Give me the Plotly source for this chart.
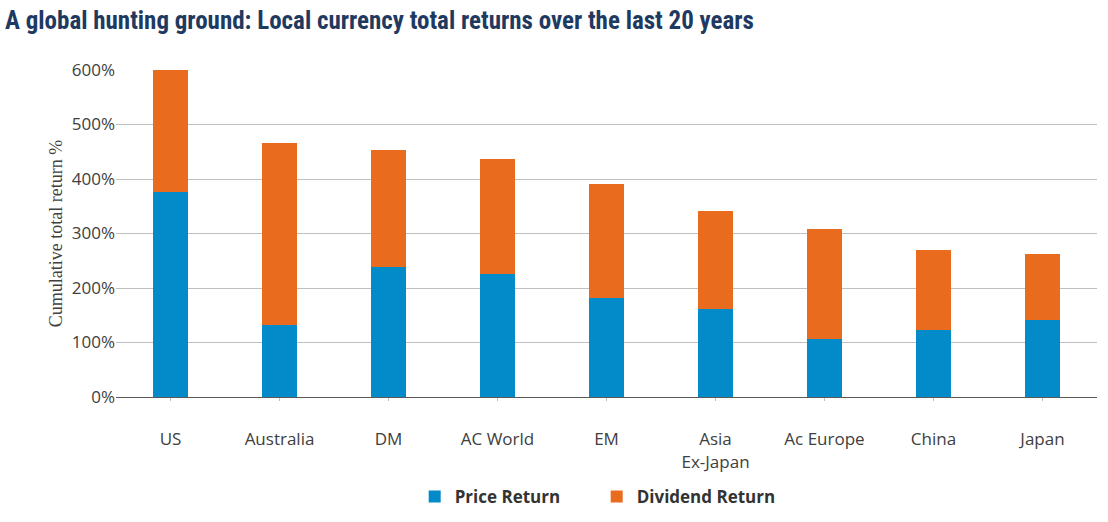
import plotly.graph_objects as go

categories = ["US", "Australia", "DM", "AC World", "EM", "Asia<br>Ex-Japan", "Ac Europe", "China", "Japan"]
price_return = [376, 132, 239, 226, 182, 162, 107, 123, 142]
total_return = [600, 466, 453, 436, 391, 341, 308, 270, 262]
dividend_return = [t - p for t, p in zip(total_return, price_return)]
y_ticks = [0, 100, 200, 300, 400, 500, 600]
y_tick_labels = [f"{v}%" for v in y_ticks]

BLUE = "#038AC8"
ORANGE = "#E96B1E"

fig = go.Figure()
fig.add_trace(go.Bar(x=categories, y=price_return, name="Price Return",
                     marker=dict(color=BLUE, line=dict(width=0))))
fig.add_trace(go.Bar(x=categories, y=dividend_return, name="Dividend Return",
                     marker=dict(color=ORANGE, line=dict(width=0))))

fig.update_layout(
    barmode="stack",
    bargap=0.67,
    width=1108, height=522,
    margin=dict(l=116, r=11, t=70, b=125, autoexpand=False),
    paper_bgcolor="white", plot_bgcolor="white",
    title=dict(text="<b>A global hunting ground: Local currency total returns over the last 20 years</b>",
               x=0.0, xanchor="left", y=0.962, yanchor="middle", pad=dict(l=5),
               font=dict(family="Liberation Sans Narrow, Roboto Condensed, Roboto, sans-serif",
                         size=25, color="#1F3A60")),
    legend=dict(orientation="h", x=0.49, xanchor="center",
                yref="container", y=0.048, yanchor="middle",
                font=dict(family="Open Sans, sans-serif", size=17, color="#333333", weight="bold"),
                itemwidth=30, traceorder="normal", entrywidth=137),
    showlegend=True,
)
fig.update_xaxes(
    showline=True, linecolor="#595959", linewidth=1,
    ticks="outside", ticklen=3, tickcolor="#BFBFBF",
    tickfont=dict(family="Open Sans, sans-serif", size=17, color="#404040"),
    ticklabelstandoff=24, automargin=False,
)
fig.update_yaxes(
    range=[0, 600], tickvals=y_ticks, ticktext=y_tick_labels,
    showgrid=True, gridcolor="#BFBFBF", gridwidth=1,
    zeroline=False, showline=False, automargin=False,
    tickfont=dict(family="Open Sans, sans-serif", size=17, color="#404040"),
    title=dict(text="Cumulative total return %",
               font=dict(family="Liberation Serif, serif", size=18, color="#404040"),
               standoff=4),
)

fig.write_html("out.html", config={"displayModeBar": False},
               post_script="document.body.style.margin='0';")
